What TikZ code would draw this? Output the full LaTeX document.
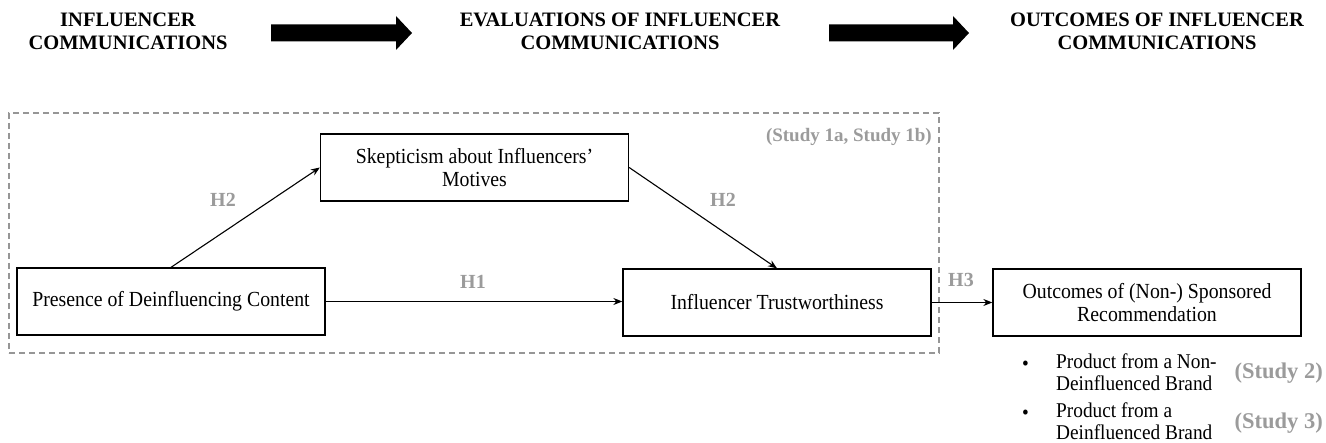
\documentclass[tikz,border=0pt]{standalone}
\usepackage{fontspec}
\setmainfont{Liberation Serif}
\newfontfamily\bodyfont[FakeStretch=0.92,Ligatures=TeX]{Liberation Serif}
\usetikzlibrary{arrows.meta,calc}
\definecolor{labgray}{RGB}{155,155,155}
\definecolor{dashgray}{RGB}{150,150,150}
\begin{document}
\begin{tikzpicture}[x=1pt,y=-1pt,
  box/.style={draw=black, line width=1.3pt, minimum width=308pt, minimum height=67pt, inner sep=2pt, align=center, font=\bodyfont\fontsize{21.5}{22.5}\selectfont},
  head/.style={align=center, inner sep=0pt, font=\fontsize{20.5}{23}\selectfont\bfseries},
  hlab/.style={text=labgray, inner sep=0pt, font=\fontsize{20}{22}\selectfont\bfseries},
  conn/.style={line width=1.1pt, -{Stealth[length=9pt,width=7pt]}},
  btext/.style={align=left, anchor=west, inner sep=0pt, font=\bodyfont\fontsize{21}{22}\selectfont},
  studybox/.style={draw=dashgray, line width=1.2pt, dash pattern=on 6pt off 4pt, minimum width=930pt, minimum height=240pt, inner sep=0pt}
]
\fill[white] (0,0) rectangle (1326,443);
\useasboundingbox (0,0) rectangle (1326,443);

% headers
\node[head] (h1) at (128,31.5) {INFLUENCER\\COMMUNICATIONS};
\node[head] (h2) at (620,31.5) {EVALUATIONS OF INFLUENCER\\COMMUNICATIONS};
\node[head] (h3) at (1157,31.5) {OUTCOMES OF INFLUENCER\\COMMUNICATIONS};

% big arrows
\coordinate (a1s) at (271,33);
\coordinate (a1e) at (412,33);
\coordinate (a2s) at (829,33);
\coordinate (a2e) at (969,33);
\foreach \s/\e in {a1s/a1e, a2s/a2e}{
  \fill[black] ($(\s)+(0,-8.5)$) -- ($(\e)+(-16,-8.5)$) -- ($(\e)+(-16,-17)$) -- (\e)
    -- ($(\e)+(-16,17)$) -- ($(\e)+(-16,8.5)$) -- ($(\s)+(0,8.5)$) -- cycle;
}

% dashed study box
\node[studybox] (study1) at (474,233) {};
\node[hlab, anchor=east, font=\fontsize{19}{22}\selectfont\bfseries] (s1lab) at (932,137) {(Study 1a, Study 1b)};

% boxes
\node[box] (skep) at (474.5,167.5) {Skepticism about Influencers’\\Motives};
\node[box] (pres) at (171,301.5) {Presence of Deinfluencing Content};
\node[box] (trust) at (777,302.5) {Influencer Trustworthiness};
\node[box] (out) at (1147,302.5) {Outcomes of (Non-) Sponsored\\Recommendation};

% connectors
\draw[conn] (pres.north) -- (skep.west);
\draw[conn] (skep.east) -- (trust.north);
\draw[conn] (pres.east) -- (pres.east -| trust.west);
\draw[conn] (trust.east) -- (trust.east -| out.west);

% labels
\node[hlab] (l2a) at (223,200) {H2};
\node[hlab] (l2b) at (723,200) {H2};
\node[hlab] (l1) at (473,282) {H1};
\node[hlab] (l3) at (961,280) {H3};

% bullets
\node[btext] (b1) at (1022,366) {\textbullet};
\node[btext] (t1) at (1056,372) {Product from a Non-\\Deinfluenced Brand};
\node[btext] (b2) at (1022,415) {\textbullet};
\node[btext] (t2) at (1056,421) {Product from a\\Deinfluenced Brand};
\node[hlab, anchor=east, font=\fontsize{22.5}{24}\selectfont\bfseries] (st2) at (1323,373) {(Study 2)};
\node[hlab, anchor=east, font=\fontsize{22.5}{24}\selectfont\bfseries] (st3) at (1323,423) {(Study 3)};
\end{tikzpicture}
\end{document}
